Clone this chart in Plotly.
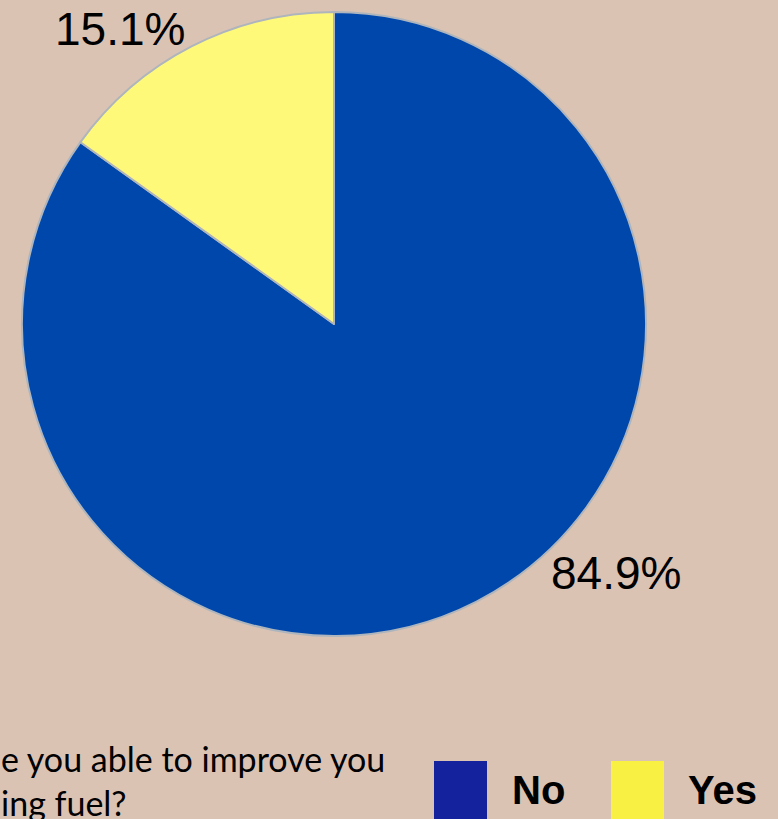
import plotly.graph_objects as go

W, H = 778, 819

# Survey answers and their shares (percent)
categories = ["No", "Yes"]
shares = [84.9, 15.1]
pie_colors = ["#0047AB", "#FFF97A"]
legend_colors = ["#14229E", "#F8F042"]
question_lines = ["e you able to improve you", "ing fuel?"]

BG = "#DBC3B4"


def px(x):
    return x / W


def py(y):
    return 1 - y / H


fig = go.Figure()

fig.add_trace(go.Pie(
    labels=categories,
    values=shares,
    sort=False,
    direction="clockwise",
    rotation=0,
    marker=dict(colors=pie_colors, line=dict(color="#AEB5BC", width=2)),
    textinfo="none",
    hoverinfo="label+percent",
    showlegend=False,
    domain=dict(x=[px(19), px(649)], y=[py(636), py(12)]),
))

# Percentage labels next to the slices
label_pos = {"Yes": (120, 29), "No": (616, 573)}
for cat, val in zip(categories, shares):
    x, y = label_pos[cat]
    fig.add_annotation(
        x=px(x), y=py(y), xref="paper", yref="paper",
        text=f"{val:.1f}%", showarrow=False,
        xanchor="center", yanchor="middle",
        font=dict(family="Liberation Sans, Arial, sans-serif", size=46, color="#000000"),
    )

# Question text along the bottom-left
for line, base in zip(question_lines, [758, 802]):
    fig.add_annotation(
        x=px(-1), y=py(base), xref="paper", yref="paper",
        text=line, showarrow=False, xanchor="left", yanchor="middle",
        font=dict(family="Lato, Carlito, Calibri, sans-serif", size=34, color="#000000"),
    )

# Hand-drawn legend: big colour squares with bold labels
sq_left = [434, 611]
txt_left = [510, 686]
for name, col, sx, tx in zip(categories, legend_colors, sq_left, txt_left):
    fig.add_shape(
        type="rect", xref="paper", yref="paper",
        x0=px(sx), x1=px(sx + 53), y0=py(840), y1=py(761),
        fillcolor=col, line=dict(color=col, width=0),
    )
    fig.add_annotation(
        x=px(tx), y=py(790), xref="paper", yref="paper",
        text=f"<b>{name}</b>", showarrow=False, xanchor="left", yanchor="middle",
        font=dict(family="Liberation Sans, Arial, sans-serif", size=40, color="#000000"),
    )

fig.update_layout(
    width=W, height=H,
    margin=dict(l=0, r=0, t=0, b=0),
    paper_bgcolor=BG, plot_bgcolor=BG,
    showlegend=False,
)

fig.write_html("out.html")
